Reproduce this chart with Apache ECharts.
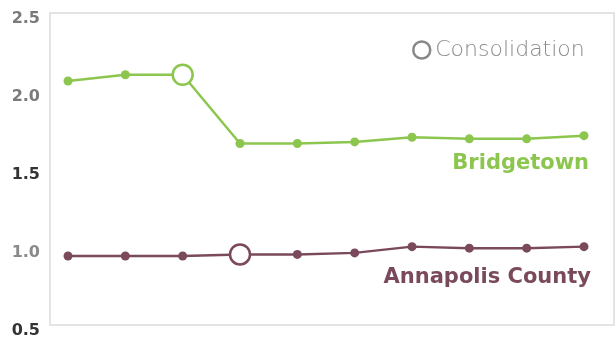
<!DOCTYPE html>
<html>
<head>
<meta charset="utf-8">
<script src="https://cdn.jsdelivr.net/npm/echarts@6/dist/echarts.min.js"></script>
<style>
  html, body { margin: 0; padding: 0; background: #fff; }
  #chart { width: 616px; height: 339px; }
</style>
</head>
<body>
<div id="chart"></div>
<script>
// periods along the x axis (no labels shown in the original)
var periods = ['1', '2', '3', '4', '5', '6', '7', '8', '9', '10'];
var bridgetown = [2.10, 2.14, 2.14, 1.70, 1.70, 1.71, 1.74, 1.73, 1.73, 1.75];
var annapolis = [0.98, 0.98, 0.98, 0.99, 0.99, 1.00, 1.04, 1.03, 1.03, 1.04];
// index where each unit consolidated
var consolidationIdx = { bridgetown: 2, annapolis: 3 };
var yTicks = [0.5, 1.0, 1.5, 2.0, 2.5];
var tickColors = { '0.5': '#333', '1': '#8a8a8a', '1.5': '#333', '2': '#7a7a7a', '2.5': '#7a7a7a' };

var green = '#8cc64e';
var maroon = '#7a4a5c';
var font = 'DejaVu Sans';

var chart = echarts.init(document.getElementById('chart'));

function lastLabel(data, text, color, dist, dx) {
    return data.map(function (v, i) {
        if (i !== data.length - 1) return v;
        return {
            value: v,
            label: {
                show: true,
                formatter: text,
                position: 'bottom',
                distance: dist,
                align: 'right',
                offset: [dx, 0],
                color: color,
                fontFamily: font,
                fontWeight: 'bold',
                fontSize: 21
            }
        };
    });
}

var option = {
    animation: false,
    grid: { left: 68, right: 32, top: 18.5, bottom: 6.5 },
    graphic: [{
        type: 'rect',
        shape: { x: 50, y: 13, width: 564, height: 312 },
        style: { fill: 'none', stroke: '#dcdcdc', lineWidth: 1.5 },
        silent: true
    }],
    legend: {
        left: 407,
        top: 34,
        icon: 'circle',
        itemWidth: 17,
        itemHeight: 17,
        data: [{
            name: 'Consolidation',
            itemStyle: { color: '#fff', borderColor: '#888', borderWidth: 2.5, opacity: 1 }
        }],
        textStyle: { fontFamily: font, fontSize: 22, fontWeight: 200, color: '#8a8a8a' }
    },
    xAxis: {
        type: 'category',
        data: periods,
        boundaryGap: false,
        axisLine: { show: false },
        axisTick: { show: false },
        axisLabel: { show: false },
        splitLine: { show: false }
    },
    yAxis: {
        type: 'value',
        min: yTicks[0],
        max: yTicks[yTicks.length - 1],
        interval: 0.5,
        axisLine: { show: false },
        axisTick: { show: false },
        splitLine: { show: false },
        axisLabel: {
            margin: 28,
            fontFamily: font,
            fontWeight: 'bold',
            fontSize: 16,
            formatter: function (v) { return v.toFixed(1); },
            color: function (v) { return tickColors[String(v)] || '#333'; }
        }
    },
    series: [
        {
            name: 'Bridgetown',
            type: 'line',
            data: lastLabel(bridgetown, 'Bridgetown', green, 13, 5),
            symbol: 'circle',
            symbolSize: 9,
            lineStyle: { color: green, width: 2.5 },
            itemStyle: { color: green }
        },
        {
            name: 'Annapolis County',
            type: 'line',
            data: lastLabel(annapolis, 'Annapolis County', maroon, 16, 7),
            symbol: 'circle',
            symbolSize: 9,
            lineStyle: { color: maroon, width: 2.5 },
            itemStyle: { color: maroon }
        },
        {
            name: 'Consolidation',
            type: 'scatter',
            z: 5,
            symbol: 'circle',
            symbolSize: 20,
            data: [
                {
                    value: [consolidationIdx.bridgetown, bridgetown[consolidationIdx.bridgetown]],
                    itemStyle: { color: '#fff', borderColor: green, borderWidth: 2.5, opacity: 1 }
                },
                {
                    value: [consolidationIdx.annapolis, annapolis[consolidationIdx.annapolis]],
                    itemStyle: { color: '#fff', borderColor: maroon, borderWidth: 2.5, opacity: 1 }
                }
            ],
            itemStyle: { color: '#fff', borderColor: '#888', borderWidth: 2.5, opacity: 1 }
        }
    ]
};

chart.setOption(option);
</script>
</body>
</html>
